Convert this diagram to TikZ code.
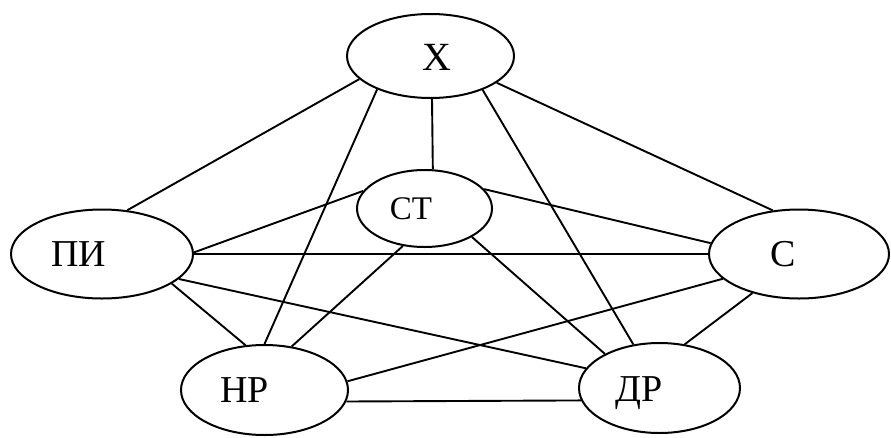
\documentclass[tikz,border=0pt]{standalone}
\usepackage{fontspec}
\setmainfont{Liberation Serif}
\usetikzlibrary{shapes.geometric}
\begin{document}
\begin{tikzpicture}[x=1pt,y=-1pt,
  ell/.style={draw, ellipse, line width=2pt, inner sep=0pt},
  edge/.style={line width=1.9pt},
  lbl/.style={anchor=base, inner sep=0pt, font=\fontsize{38}{40}\selectfont}]
\useasboundingbox (0,0) rectangle (891,437);
% ellipses
\node[ell, minimum width=167pt, minimum height=84pt] (X) at (430.5,56) {};
\node[ell, minimum width=135pt, minimum height=77pt] (CT) at (424.5,208.5) {};
\node[ell, minimum width=182pt, minimum height=89pt] (PI) at (102,254) {};
\node[ell, minimum width=180pt, minimum height=89pt] (C) at (799,254) {};
\node[ell, minimum width=167pt, minimum height=90pt] (NR) at (264.5,390) {};
\node[ell, minimum width=161pt, minimum height=90pt] (DR) at (659.5,388) {};
% labels
\node[lbl, font=\fontsize{40}{42}\selectfont] (tX) at (437,70) {Х};
\node[lbl, font=\fontsize{33}{35}\selectfont] (tCT) at (411,219) {СТ};
\node[lbl] (tPI) at (79,266) {ПИ};
\node[lbl] (tC) at (783.5,266) {С};
\node[lbl] (tNR) at (244.5,402) {НР};
\node[lbl] (tDR) at (639.5,401) {ДР};
% connectors
\draw[edge] (X.198) -- (PI.60);
\draw[edge] (X.212.6) -- (NR.90.6);
\draw[edge] (X.272) -- (CT.78.7);
\draw[edge] (X.327.4) -- (DR.121);
\draw[edge] (X.338.6) -- (C.121.2);
\draw[edge] (CT.164) -- (PI.1);
\draw[edge] (CT.18.4) -- (C.173.9);
\draw[edge] (CT.240.8) -- (NR.58.9);
\draw[edge] (CT.329.9) -- (DR.148);
\draw[edge] (PI.0) -- (C.180);
\draw[edge] (PI.337.8) -- (NR.113.4);
\draw[edge] (PI.342.8) -- (DR.165.7);
\draw[edge] (C.198.5) -- (NR.6.9);
\draw[edge] (C.220.8) -- (DR.60.5);
\draw[edge] (NR.352.4) -- (DR.189.3);
\end{tikzpicture}
\end{document}
